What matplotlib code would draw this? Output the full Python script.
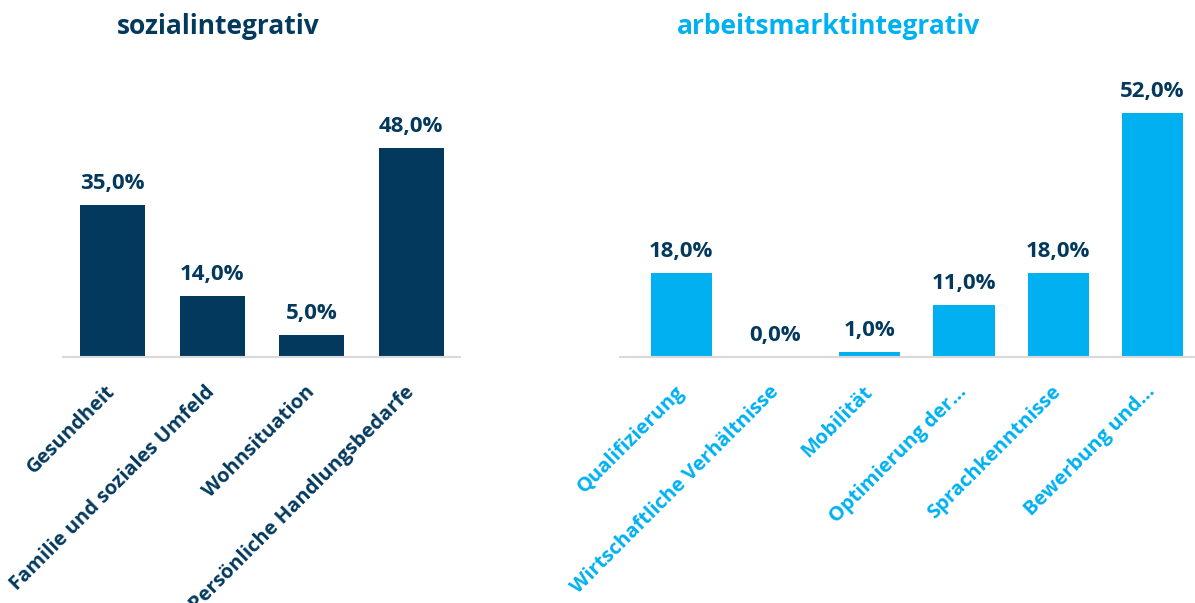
import matplotlib.pyplot as plt
from matplotlib import transforms

plt.rcParams['font.family'] = ['Open Sans', 'DejaVu Sans']

sozial_labels = ["Gesundheit", "Familie und soziales Umfeld", "Wohnsituation",
                 "Persönliche Handlungsbedarfe"]
sozial_values = [35.0, 14.0, 5.0, 48.0]

arbeit_labels = ["Qualifizierung", "Wirtschaftliche Verhältnisse", "Mobilität",
                 "Optimierung der…", "Sprachkenntnisse", "Bewerbung und…"]
arbeit_values = [18.0, 0.0, 1.0, 11.0, 18.0, 52.0]

navy = "#03395D"
cyan = "#00B0F0"
W, H = 1195, 603

fig = plt.figure(figsize=(W / 100, H / 100), dpi=100)


def panel(px_left, px_right, ymax, xlim, labels, values, color):
    ax = fig.add_axes([px_left / W, (H - 357) / H, (px_right - px_left) / W, 287 / H])
    x = range(len(values))
    bars = ax.bar(x, values, width=0.65, color=color)
    for b, v in zip(bars, values):
        ax.annotate(f"{v:.1f}%".replace(".", ","), (b.get_x() + b.get_width() / 2, v),
                    xytext=(0, 11.5), textcoords="offset points", ha="center", va="baseline",
                    fontsize=16, fontweight="bold", color=navy)
    ax.set_xlim(*xlim)
    ax.set_ylim(0, ymax)
    ax.set_yticks([])
    ax.set_xticks(list(x))
    ax.set_xticklabels(labels, rotation=45, ha="right", va="center", rotation_mode="anchor",
                       fontsize=14.5, fontweight="bold", color=color)
    off = transforms.ScaledTranslation(-1 / 72, 0, fig.dpi_scale_trans)
    for t in ax.get_xticklabels():
        t.set_transform(t.get_transform() + off)
    ax.tick_params(axis="x", length=0, pad=23)
    for s in ["top", "left", "right"]:
        ax.spines[s].set_visible(False)
    ax.spines["bottom"].set_color("#D9D9D9")
    ax.spines["bottom"].set_linewidth(1.5)
    return ax


panel(63, 460, 66, (-0.5, 3.49), sozial_labels, sozial_values, navy)
panel(620, 1195, 61.2, (-0.65, 5.45), arbeit_labels, arbeit_values, cyan)

fig.text(218 / W, 1 - 27 / H, "sozialintegrativ", ha="center", va="center",
         fontsize=19, fontweight="bold", color=navy)
fig.text(828 / W, 1 - 27 / H, "arbeitsmarktintegrativ", ha="center", va="center",
         fontsize=19, fontweight="bold", color=cyan)

fig.savefig("out.png", dpi=100)
